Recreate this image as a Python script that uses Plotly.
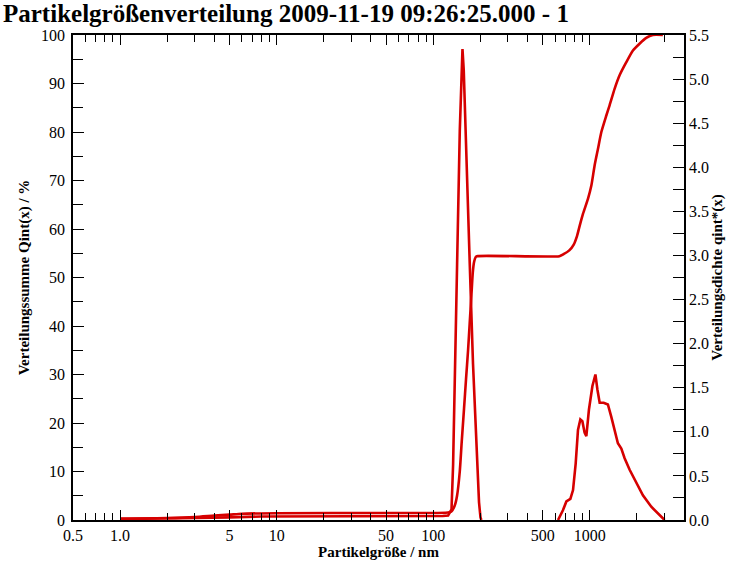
import plotly.graph_objects as go

# ---------------- data ----------------
# cumulative distribution Qint(x) in % (left axis)
cum_size = [1.0, 2.0, 3.0, 4.0, 5.0, 6.0, 10, 50, 120, 127, 131, 137.3, 142, 147.8,
            152, 157.4, 162, 167, 171, 175.5, 179, 182.4, 186.7, 190, 640, 680, 740,
            790, 830, 863, 905, 974, 1023, 1074, 1128, 1186, 1276, 1339, 1441, 1551,
            1712, 1888, 2080, 2296, 2529, 2931]
cum_pct = [0.3, 0.4, 0.6, 0.9, 1.1, 1.3, 1.4, 1.45, 1.5, 1.6, 1.8, 3.0, 5.0, 10.0,
           16.0, 23.0, 29.0, 35.0, 40.5, 46.5, 51.0, 53.2, 54.2, 54.4, 54.4, 54.8, 55.6,
           56.8, 58.6, 60.7, 63.1, 66.2, 68.9, 73.1, 76.5, 80.0, 83.4, 85.5, 88.9, 91.7,
           94.4, 96.8, 98.2, 99.4, 100.0, 100.0]

# density distribution qint*(x) (right axis)
dens_size = [1.0, 3.0, 5.0, 8.0, 50, 115, 124.5, 130.9, 134.0, 138.7, 142.1, 147.8,
             151.1, 153.8, 156.7, 160.6, 171.2, 179.6, 190.4, 196.2, 200.4, 203.0,
             400, 627, 674, 709, 752, 782, 813, 841, 871, 897, 927, 951, 988, 1040,
             1087, 1119, 1157, 1227, 1306, 1373, 1441, 1513, 1591, 1670, 1798, 1983,
             2186, 2472, 2792, 3006]
dens_val = [0.01, 0.02, 0.03, 0.04, 0.04, 0.045, 0.05, 0.12, 0.63, 1.76, 2.90, 4.41,
            5.10, 5.34, 5.10, 4.41, 2.90, 1.77, 0.63, 0.20, 0.03, 0.0,
            None, 0.0, 0.11, 0.21, 0.24, 0.34, 0.64, 1.02, 1.14, 1.12, 0.99, 0.95,
            1.25, 1.52, 1.65, 1.48, 1.33, 1.33, 1.31, 1.17, 1.02, 0.87, 0.81, 0.70,
            0.57, 0.42, 0.28, 0.15, 0.06, 0.0]

x_tickvals = [0.5, 1, 5, 10, 50, 100, 500, 1000]
x_ticktext = ["0.5", "1.0", "5", "10", "50", "100", "500", "1000"]
x_minor = [0.6, 0.7, 0.8, 0.9, 2, 3, 4, 6, 7, 8, 9, 20, 30, 40, 60, 70, 80, 90,
           200, 300, 400, 600, 700, 800, 900, 2000, 3000]

title_text = "Partikelgrößenverteilung 2009-11-19 09:26:25.000 - 1"
x_title = "Partikelgröße / nm"
y_title = "Verteilungssumme Qint(x) / %"
y2_title = "Verteilungsdichte qint*(x)"

# ---------------- figure ----------------
RED = "rgb(214,0,0)"
FONT = "Liberation Serif"

fig = go.Figure()
fig.add_trace(go.Scatter(x=cum_size, y=cum_pct, mode="lines",
                         line=dict(color=RED, width=2.6, shape="spline", smoothing=0.6),
                         yaxis="y", showlegend=False, hoverinfo="skip"))
fig.add_trace(go.Scatter(x=dens_size, y=dens_val, mode="lines",
                         line=dict(color=RED, width=2.6), yaxis="y2",
                         connectgaps=False, showlegend=False, hoverinfo="skip"))

tickfont = dict(family=FONT, size=16, color="black")
titlefont = dict(family=FONT, size=15, color="black", weight="bold")

fig.update_layout(
    width=735, height=569,
    margin=dict(l=73, r=51, t=35, b=49),
    paper_bgcolor="white", plot_bgcolor="white",
    font=dict(family=FONT, color="black"),
    xaxis=dict(type="log", range=[-0.30103, 3.60206], automargin=False,
               tickmode="array", tickvals=x_tickvals, ticktext=x_ticktext,
               ticks="inside", ticklen=10, tickwidth=1.3, tickcolor="black",
               minor=dict(tickmode="array", tickvals=x_minor, ticks="inside",
                          ticklen=7, tickwidth=1.3, tickcolor="black"),
               showline=True, linecolor="black", linewidth=1.5, mirror="ticks",
               showgrid=False, zeroline=False, tickfont=tickfont,
               title=dict(text=x_title, font=titlefont, standoff=3)),
    yaxis=dict(range=[0, 100], tickmode="linear", tick0=0, dtick=10, automargin=False,
               ticks="inside", ticklen=11, tickwidth=1.3, tickcolor="black",
               minor=dict(dtick=5, ticks="inside", ticklen=10, tickwidth=1.3,
                          tickcolor="black"),
               showline=True, linecolor="black", linewidth=1.5, ticklabelstandoff=3,
               showgrid=False, zeroline=False, tickfont=tickfont,
               title=dict(text=y_title, font=titlefont, standoff=8)),
    yaxis2=dict(range=[0, 5.5], overlaying="y", side="right", automargin=False,
                tickmode="linear", tick0=0, dtick=0.5, tickformat=".1f",
                ticks="inside", ticklen=11, tickwidth=1.3, tickcolor="black",
                minor=dict(dtick=0.25, ticks="inside", ticklen=11, tickwidth=1.3,
                           tickcolor="black"),
                showline=True, linecolor="black", linewidth=1.5,
                showgrid=False, zeroline=False, tickfont=tickfont,
                title=dict(text=y2_title, font=titlefont, standoff=4)),
    annotations=[dict(text="<b>" + title_text + "</b>", xref="paper", yref="paper",
                      x=-0.116, y=1.0445, xanchor="left", yanchor="middle",
                      showarrow=False, borderpad=0,
                      font=dict(family=FONT, size=25, color="black"))],
)

fig.write_html("out.html", config={"displayModeBar": False},
               post_script="document.body.style.margin='0';")
